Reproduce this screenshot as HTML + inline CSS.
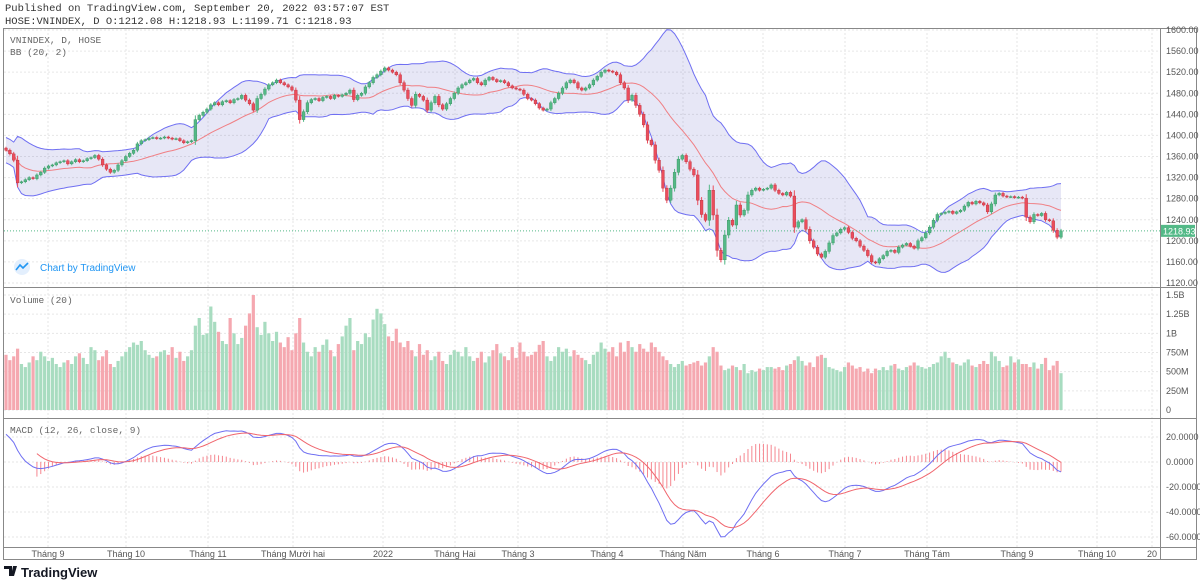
<!DOCTYPE html>
<html><head><meta charset="utf-8">
<style>
html,body{margin:0;padding:0;background:#fff;}
body{width:1200px;height:584px;overflow:hidden;position:relative;font-family:"Liberation Mono","DejaVu Sans Mono",monospace;}
.hdr{position:absolute;left:5px;font-size:10.5px;color:#333;}
svg text{font-family:"Liberation Sans",sans-serif;}
svg text.mono{font-family:"Liberation Mono",monospace;}
</style></head><body>
<div class="hdr" style="top:3px">Published on TradingView.com, September 20, 2022 03:57:07 EST</div>
<div class="hdr" style="top:16px">HOSE:VNINDEX, D O:1212.08 H:1218.93 L:1199.71 C:1218.93</div>
<svg id="chart" width="1200" height="584" style="position:absolute;left:0;top:0"></svg>
<script>
const closes=[1372,1365,1353,1310,
1312,1316,1320,1318,1325,
1330,1338,1342,1344,1348,
1350,1352,1346,1350,1354,1350,1352,1356,1358,1362,
1355,1344,1336,1330,1334,
1344,1352,1360,1366,1372,
1384,1390,1392,
1395,1396,1394,1395,1397,1395,1393,1394,1390,1386,1388,1390,
1430,1438,1444,
1450,1458,1462,1458,1464,1466,1462,1468,1470,1476,
1467,1460,1448,1470,1478,1488,1496,1500,
1505,1500,1496,1492,
1486,1467,1430,1445,1462,
1468,1470,1466,1472,1474,1470,1476,1474,
1477,1480,1486,1468,1476,1480,
1492,1500,1510,1515,1522,1528,1524,1520,
1515,1500,1486,1470,1457,1478,1474,1467,1448,
1462,1474,1458,1450,1460,
1470,1480,1490,1496,1500,
1505,1508,1500,1496,1505,1510,1506,1502,
1504,1500,1494,1490,1488,
1486,1478,1470,1467,1460,1452,1448,1450,
1462,1470,1480,1490,1500,1505,
1500,1490,1486,1490,1496,1505,1512,1520,
1524,1522,1520,1515,1500,1490,
1467,1476,1457,1440,1420,1391,
1382,1353,1334,1300,1277,
1300,1330,1355,1362,1350,1336,1325,
1277,1250,1239,1296,
1249,1182,1164,1211,
1239,1230,1268,1249,1258,
1287,1296,1300,1296,1298,1300,1306,
1296,1290,1287,1292,1285,
1226,1236,1240,1222,1200,1188,1175,1169,1180,1196,1210,1215,1222,1225,1216,1205,1200,1190,1182,1172,
1160,1158,1166,1172,1180,1182,1178,1188,1192,1195,1190,1186,1200,1206,1215,
1226,1239,1250,1252,1254,1256,1252,1255,1258,
1266,1273,1270,1275,1272,1268,
1255,1270,1287,1290,
1285,1283,1284,1282,1283,1281,
1245,1236,1250,1248,1252,1240,1238,1220,1207,1218.93];
const volumesM=[720,650,700,800,
600,560,620,700,650,
760,700,640,680,600,
560,620,650,600,700,740,680,600,820,780,
650,700,780,600,560,
640,700,760,820,880,
850,900,780,
720,680,700,760,780,720,820,680,760,640,700,780,
1100,1200,980,
1000,1350,1150,1020,900,860,1200,1000,860,940,
1100,1260,1500,1080,980,1150,1000,900,
1020,880,820,950,
780,1000,1200,880,760,
700,820,760,850,920,780,700,860,
960,1100,1200,780,900,860,
1000,950,1180,1320,1260,1120,960,900,
1060,880,820,900,780,700,860,720,780,
650,700,760,640,600,
720,780,760,700,820,
700,640,680,760,620,700,780,860,
740,700,650,820,680,
880,760,700,720,760,850,900,700,
640,700,820,760,800,700,
780,720,680,650,600,720,760,880,
800,760,820,700,880,760,
900,820,760,860,800,760,
880,820,760,700,650,
600,560,600,640,580,600,620,
640,580,620,700,
820,760,580,520,
540,580,560,520,600,
480,520,500,540,520,560,560,
540,560,520,580,600,
650,700,640,580,620,560,700,720,680,560,540,520,500,560,620,580,540,560,500,540,
480,540,520,560,520,580,600,540,520,560,580,620,580,560,540,
560,600,620,700,760,680,620,600,580,
620,660,580,560,600,640,
600,760,700,640,
560,580,700,620,660,600,
600,560,620,540,600,680,520,580,640,480];
const priceTicks=[1600,1560,1520,1480,1440,1400,1360,1320,1280,1240,1200,1160,1120];
const volTicks=[1.5,1.25,1,0.75,0.5,0.25,0];
const volTickLabels=["1.5B","1.25B","1B","750M","500M","250M","0"];
const macdTicks=[20,0,-20,-40,-60];
const monthLabels=["Tháng 9","Tháng 10","Tháng 11","Tháng Mười hai","2022","Tháng Hai","Tháng 3","Tháng 4","Tháng Năm","Tháng 6","Tháng 7","Tháng Tám","Tháng 9","Tháng 10","20"];
const monthX=[48,126,208,293,383,455,518,607,683,763,845,927,1017,1097,1152];

const NS="http://www.w3.org/2000/svg";
const svg=document.getElementById('chart');
function mk(tag,attrs,parent){const e=document.createElementNS(NS,tag);for(const k in attrs)e.setAttribute(k,attrs[k]);(parent||svg).appendChild(e);return e;}
const N=Math.min(closes.length,volumesM.length);
const X0=6,X1=1061;
const sp=(X1-X0)/(N-1);
const xs=i=>X0+i*sp;
const yP=p=>30+(1600-p)*(253/480);
const yV=v=>410-v*(115/1.5);
const yM=m=>462-m*(25/20);
const R=1160;

mk('rect',{x:3.5,y:28.5,width:1193,height:531,fill:'none',stroke:'#888','stroke-width':1});
const grid=mk('g',{stroke:'#e6e6e6','stroke-dasharray':'2,2','stroke-width':1});


monthX.forEach(x=>mk('line',{x1:x,x2:x,y1:29,y2:547},grid));
priceTicks.forEach(p=>mk('line',{x1:4,x2:R,y1:yP(p),y2:yP(p)},grid));
volTicks.forEach(v=>mk('line',{x1:4,x2:R,y1:yV(v),y2:yV(v)},grid));
macdTicks.forEach(m=>mk('line',{x1:4,x2:R,y1:yM(m),y2:yM(m)},grid));
[287.5,418.5,547.5].forEach(y=>mk('line',{x1:4,x2:1196,y1:y,y2:y,stroke:'#888'}));
mk('line',{x1:R+0.5,x2:R+0.5,y1:29,y2:560,stroke:'#888'});

const mid=[],up=[],lo=[];
for(let i=0;i<N;i++){const s=Math.max(0,i-19);const w=closes.slice(s,i+1);const m=w.reduce((a,b)=>a+b,0)/w.length;
const sd=Math.sqrt(w.reduce((a,b)=>a+(b-m)*(b-m),0)/w.length);const sdd=Math.max(sd,12);mid.push(m);up.push(m+2*sdd);lo.push(m-2*sdd);}
let fillD='M'+up.map((v,i)=>xs(i)+','+yP(v)).join('L')+'L'+lo.map((v,i)=>[i,v]).reverse().map(a=>xs(a[0])+','+yP(a[1])).join('L')+'Z';
const bbFill=mk('path',{d:fillD,fill:'rgba(60,60,180,0.12)',stroke:'none'});


const line=(arr,f)=>'M'+arr.map((v,i)=>xs(i).toFixed(1)+','+f(v).toFixed(1)).join('L');
const bbU=mk('path',{d:line(up,yP),fill:'none',stroke:'#6f6ff2','stroke-width':1});


const bbL=mk('path',{d:line(lo,yP),fill:'none',stroke:'#6f6ff2','stroke-width':1});


const bbM=mk('path',{d:line(mid,yP),fill:'none',stroke:'#f07f84','stroke-width':1});



mk('line',{x1:4,x2:R,y1:yP(closes[N-1]),y2:yP(closes[N-1]),stroke:'#53b987','stroke-dasharray':'1,2'});

const cg=mk('g',{});


for(let i=0;i<N;i++){
 const c=closes[i],o=i?closes[i-1]:c+4;
 const up_=c>=o;const col=up_?'#53b987':'#eb4d5c';
 const d=Math.abs(c-o);
 const h=Math.max(c,o)+2+d*0.15,l=Math.min(c,o)-2-d*0.15;
 const x=xs(i);
 mk('line',{x1:x,x2:x,y1:yP(h),y2:yP(l),stroke:col,'stroke-width':1},cg);
 const top=yP(Math.max(c,o)),bh=Math.max(1,yP(Math.min(c,o))-top);
 const b=mk('rect',{x:x-1.4,y:top,width:2.8,height:bh,fill:col,stroke:up_?'#3a8f5e':'#b8323e','stroke-width':0.4},cg);
 
 
}
const vg=mk('g',{});


for(let i=0;i<N;i++){
 const c=closes[i],o=i?closes[i-1]:c+4;
 const v=volumesM[i]/1000;
 const r=mk('rect',{x:xs(i)-1.6,y:yV(v),width:3.2,height:410-yV(v),fill:c>=o?'#a8dcc0':'#f5a8b0'},vg);
 
 
}
let e12=closes[0]+12,e26=closes[0]-13;const macd=[],sig=[];let s=null;
for(let i=0;i<N;i++){e12=e12+(closes[i]-e12)*2/13;e26=e26+(closes[i]-e26)*2/27;const m=e12-e26;macd.push(m);
 if(i===8){s=macd.slice(0,9).reduce((a,b)=>a+b,0)/9;}else if(i>8){s=s+(m-s)*0.2;}sig.push(s);}
const hg=mk('g',{});


for(let i=8;i<N;i++){const h=macd[i]-sig[i];const x=xs(i);
 const hl=mk('line',{x1:x,x2:x,y1:yM(0),y2:yM(h),stroke:'#f5868f','stroke-width':1},hg);
 
 }
const ml=mk('path',{d:line(macd,yM),fill:'none',stroke:'#6f6ff2','stroke-width':1});


const sigD='M'+sig.map((v,i)=>v===null?null:xs(i).toFixed(1)+','+yM(v).toFixed(1)).filter(a=>a).join('L');
const sl=mk('path',{d:sigD,fill:'none',stroke:'#f0656d','stroke-width':1});



const txt=(x,y,t,opt)=>{const e=mk('text',Object.assign({x:x,y:y,'font-size':9,fill:'#555'},opt||{}));e.textContent=t;return e;};
priceTicks.forEach(p=>{const e=txt(R+6,yP(p)+3,p.toFixed(2));});
volTicks.forEach((v,i)=>{const e=txt(R+6,yV(v)+3,volTickLabels[i]);});
macdTicks.forEach(m=>{const e=txt(R+6,yM(m)+3,m.toFixed(4));});
monthLabels.forEach((l,i)=>{const e=txt(monthX[i],557,l,{'text-anchor':'middle'});});
const ly=yP(closes[N-1]);
mk('rect',{x:R+1,y:ly-6,width:34,height:12,fill:'#53b987'});
const lt=txt(R+3,ly+3.5,closes[N-1].toFixed(2),{fill:'#fff','font-size':9});


const mono={'class':'mono','font-size':9.5,fill:'#666'};
[[10,43,'VNINDEX, D, HOSE','symbol-title'],[10,55,'BB (20, 2)','bb-title'],[10,303,'Volume (20)','volume-title'],[10,433,'MACD (12, 26, close, 9)','macd-title']].forEach(a=>{const e=mk('text',Object.assign({x:a[0],y:a[1]},mono));e.textContent=a[2];});
const wm=mk('g',{});


mk('circle',{cx:22,cy:267,r:8,fill:'#e3effd'},wm);
mk('path',{d:'M16,270 L20,265 L23,268 L28,263',fill:'none',stroke:'#2196f3','stroke-width':1.6},wm);
const wt=mk('text',{x:40,y:271,'font-size':10,fill:'#2196f3'},wm);wt.textContent='Chart by TradingView';
const lg=mk('g',{});


mk('path',{d:'M4,566 h8 v10 h-3 v-7 h-5z M13,566 h4 l-3,10 h-3z',fill:'#131722'},lg);
const lgt=mk('text',{x:21,y:577,'font-size':13,'font-weight':'bold',fill:'#131722'},lg);lgt.textContent='TradingView';
</script>
</body></html>
